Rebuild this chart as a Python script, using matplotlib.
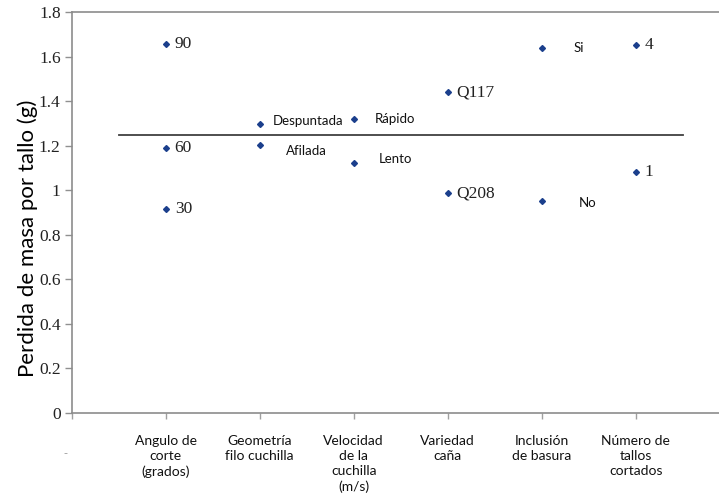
import numpy as np
import matplotlib.pyplot as plt

# factores y niveles
factores = ['Angulo de\ncorte\n(grados)', 'Geometría\nfilo cuchilla',
            'Velocidad\nde la\ncuchilla\n(m/s)', 'Variedad\ncaña',
            'Inclusión\nde basura', 'Número de\ntallos\ncortados']
pos_factor = [1, 1, 1, 2, 2, 3, 3, 4, 4, 5, 5, 6, 6]
niveles = ['90', '60', '30', 'Despuntada', 'Afilada', 'Rápido', 'Lento',
           'Q117', 'Q208', 'Si', 'No', '4', '1']
perdida = [1.655, 1.188, 0.914, 1.297, 1.203, 1.320, 1.121,
           1.439, 0.987, 1.640, 0.952, 1.653, 1.083]
media = 1.248

# estilo de cada etiqueta: serif junto al punto, sans desplazada
serif = [True, True, True, False, False, False, False,
         True, True, False, False, True, True]
dx_px = [9, 9, 9, 13, 26, 21, 25, 9, 9, 32, 37, 9, 9]
dy_px = [0, 0, 0, 3, -6, 0, 4, 0, 0, 0, -2, 0, 0]

fig = plt.figure(figsize=(7.19, 5.0), dpi=100)
ax = fig.add_axes([71.7 / 719, 1 - 413 / 500, 1 - 71.7 / 719, (413 - 12) / 500])

ax.plot(pos_factor, perdida, 'D', color='#1b3f8c', markersize=3.0, zorder=3)
ax.plot([0.5, 6.5], [media, media], '-', color='#404040', lw=1.3)

for x, y, t, s, dx, dy in zip(pos_factor, perdida, niveles, serif, dx_px, dy_px):
    if s:
        ax.annotate(t, (x, y), xytext=(dx * 0.72, dy * 0.72), textcoords='offset points',
                    ha='left', va='center', fontsize=12.5, family='Liberation Serif',
                    color='#222222')
    else:
        ax.annotate(t, (x, y), xytext=(dx * 0.72, dy * 0.72), textcoords='offset points',
                    ha='left', va='center', fontsize=9.5, family='Lato',
                    color='#111111')

ax.set_xlim(0, (719 - 71.7) / 94)
ax.set_ylim(0, 1.8)
ax.set_yticks(np.arange(0, 1.81, 0.2))
ax.set_yticklabels(['0', '0.2', '0.4', '0.6', '0.8', '1', '1.2', '1.4', '1.6', '1.8'],
                   family='Liberation Serif', fontsize=12.5, color='#222222')
ax.set_xticks(range(0, 7))
ax.set_xticklabels([''] + factores, family='Lato', fontsize=10, linespacing=1.3,
                   color='#111111')
ax.tick_params(axis='y', direction='out', length=5, width=1, color='#909090', pad=3)
ax.tick_params(axis='x', direction='out', length=4, width=1, color='#a0a0a0', pad=12)

for lado in ['left', 'bottom', 'top']:
    ax.spines[lado].set_color('#8c8c8c')
    ax.spines[lado].set_linewidth(1.2)
ax.spines['right'].set_visible(False)

fig.text(28 / 719, 1 - 238 / 500, 'Perdida de masa por tallo (g)', family='Lato',
         fontsize=16, rotation=90, ha='center', va='center')
fig.text(65 / 719, 1 - 453 / 500, '-', color='#999999', fontsize=8, ha='center', va='center')

fig.savefig('out.png', dpi=100)
